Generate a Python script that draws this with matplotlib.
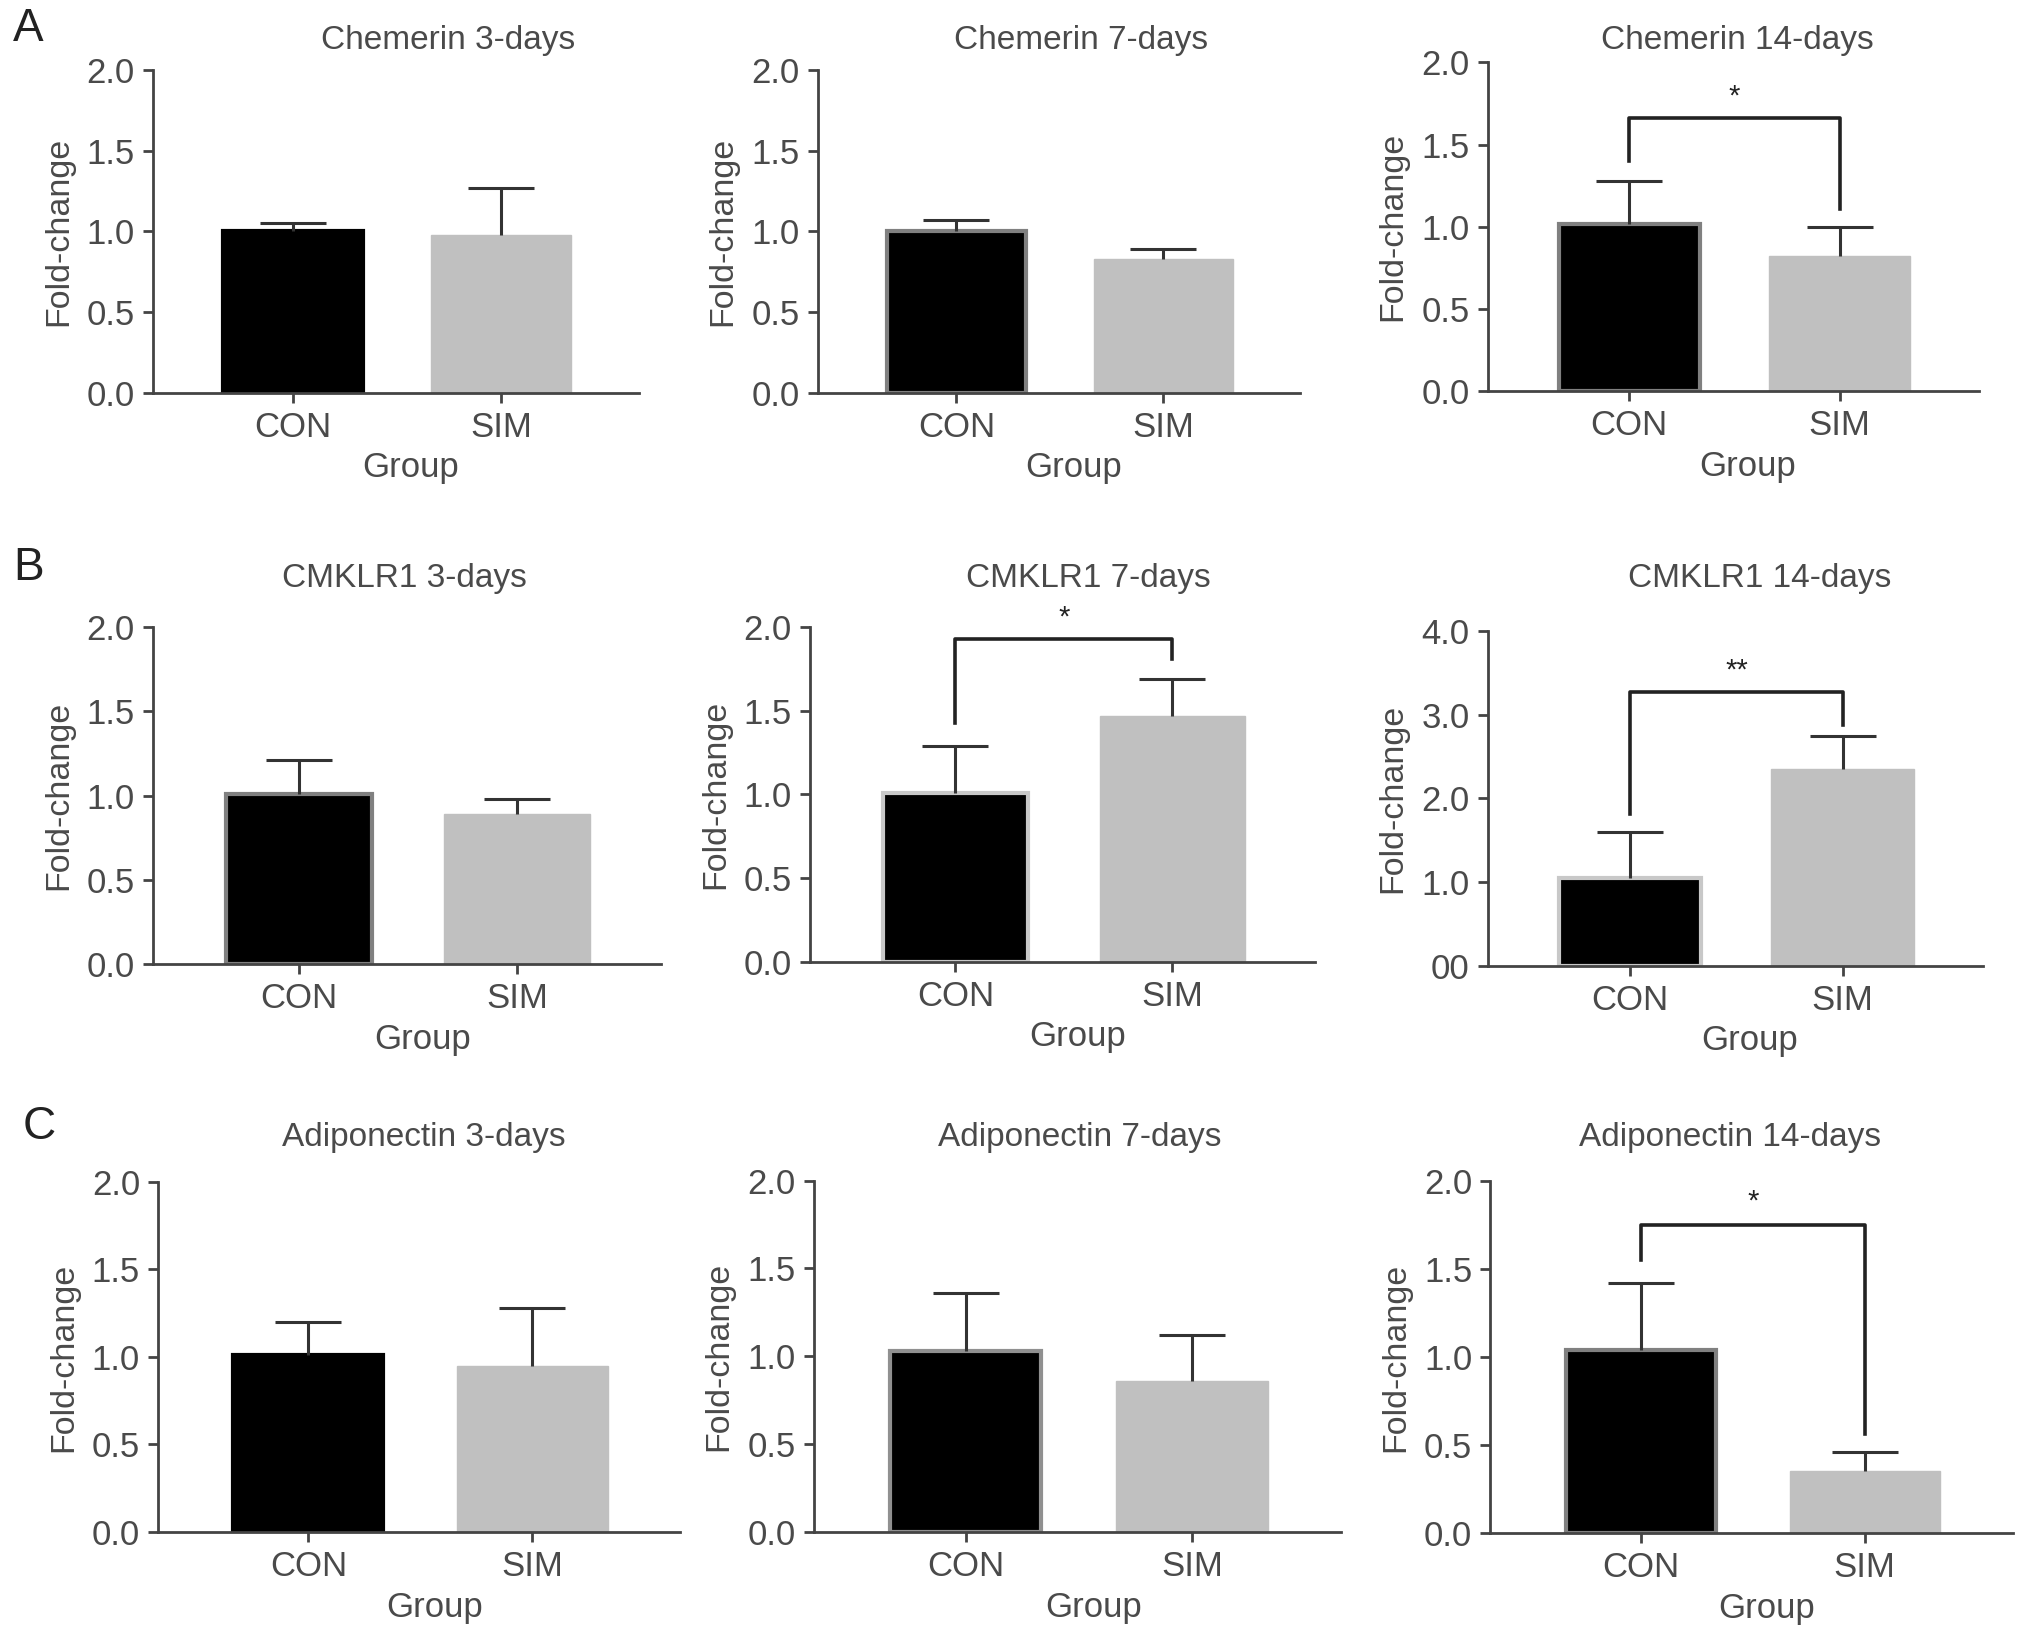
import numpy as np
import matplotlib
matplotlib.use("Agg")
import matplotlib.pyplot as plt

plt.rcParams['font.family'] = ['Liberation Sans', 'DejaVu Sans']

# data: mean and upper error for CON / SIM in each panel
titles = ["Chemerin 3-days", "Chemerin 7-days", "Chemerin 14-days",
          "CMKLR1 3-days", "CMKLR1 7-days", "CMKLR1 14-days",
          "Adiponectin 3-days", "Adiponectin 7-days", "Adiponectin 14-days"]
groups = ["CON", "SIM"]
con_mean = [1.00, 1.00, 1.02, 1.01, 1.01, 1.05, 1.01, 1.03, 1.04]
con_err = [0.05, 0.07, 0.26, 0.20, 0.28, 0.55, 0.19, 0.33, 0.38]
sim_mean = [0.98, 0.83, 0.82, 0.89, 1.47, 2.35, 0.95, 0.86, 0.35]
sim_err = [0.29, 0.06, 0.18, 0.09, 0.22, 0.39, 0.33, 0.26, 0.11]
y_max = [2, 2, 2, 2, 2, 4, 2, 2, 2]
y_ticklabels = [["0.0", "0.5", "1.0", "1.5", "2.0"]] * 5 + \
               [["00", "1.0", "2.0", "3.0", "4.0"]] + \
               [["0.0", "0.5", "1.0", "1.5", "2.0"]] * 3

# significance brackets: panel, bracket height, left leg end, right leg end, label
sig_panel = [2, 4, 5, 8]
sig_top = [1.66, 1.93, 3.27, 1.75]
sig_left = [1.40, 1.43, 1.81, 1.55]
sig_right = [1.11, 1.81, 2.88, 0.56]
sig_text = ["*", "*", "**", "*"]

# layout in reference pixels (1568 x 1267 view)
W, H = 1568.0, 1267.0
ax_rects = [(118, 54, 303, 375), (631, 54, 303, 372), (1148, 48, 302, 379),
            (118, 484, 744, 392), (625, 484, 742, 390), (1148, 487, 745, 382),
            (122, 912, 1182, 403), (628, 911, 1182, 407), (1150, 911, 1183, 403)]
title_pos = [(346, 31), (834, 31), (1341, 31),
             (312, 446), (840, 446), (1358, 446),
             (327, 878), (833, 878), (1335, 878)]
con_edge = ["#000000", "#808080", "#808080", "#808080", "#c8c8c8", "#c8c8c8",
            "#000000", "#909090", "#808080"]
letters = [("A", 22, 22), ("B", 22, 438), ("C", 30, 870)]

txt = "#4a4a4a"
fig = plt.figure(figsize=(20.32, 16.42), dpi=100)

for i in range(9):
    left, top, bottom, width = ax_rects[i]
    height = bottom - top
    ax = fig.add_axes([left / W, 1 - bottom / H, width / W, height / H])
    x = np.arange(2)
    ax.bar(x[0], con_mean[i], width=0.67, color="black", edgecolor=con_edge[i], linewidth=3, zorder=2)
    ax.bar(x[1], sim_mean[i], width=0.67, color="#c0c0c0", edgecolor="#c0c0c0", linewidth=1, zorder=2)
    means = [con_mean[i], sim_mean[i]]
    eb = ax.errorbar(x, means, yerr=[[0, 0], [con_err[i], sim_err[i]]],
                     fmt="none", ecolor="#333333", elinewidth=2.2, capsize=24, capthick=2.2, zorder=3)
    for cap in eb[1]:
        if np.allclose(cap.get_ydata(), means):
            cap.set_visible(False)
    ax.set_xlim(-0.671, 1.66)
    ax.set_ylim(0, y_max[i])
    ax.set_yticks(np.linspace(0, y_max[i], 5))
    ax.set_yticklabels(y_ticklabels[i])
    ax.set_xticks(x)
    ax.set_xticklabels(groups)
    for s in ["top", "right"]:
        ax.spines[s].set_visible(False)
    for s in ["left", "bottom"]:
        ax.spines[s].set_linewidth(2)
        ax.spines[s].set_color("#444444")
    ax.tick_params(axis="both", length=7, width=2, color="#444444", labelsize=25,
                   labelcolor=txt, pad=6)
    ax.set_xlabel("Group", fontsize=25, color=txt, va="center")
    ax.xaxis.set_label_coords(0.53, -58 / height)
    ax.set_ylabel("Fold-change", fontsize=24.5, color=txt, va="center")
    ax.yaxis.set_label_coords(-73 / width, 0.5)
    tx, ty = title_pos[i]
    fig.text(tx / W, 1 - ty / H, titles[i], fontsize=24, color=txt, ha="center", va="center")

    if i in sig_panel:
        k = sig_panel.index(i)
        ax.plot([0, 0, 1, 1], [sig_left[k], sig_top[k], sig_top[k], sig_right[k]],
                color="#222222", lw=2.6, clip_on=False, zorder=4)
        ax.text(0.5, sig_top[k] + 0.065 * y_max[i], sig_text[k], ha="center", va="center",
                fontsize=21, color="#222222", clip_on=False)

for lab, lx, ly in letters:
    fig.text(lx / W, 1 - ly / H, lab, fontsize=33, color="#222222", ha="center", va="center")

fig.savefig("out.png", dpi=100)
